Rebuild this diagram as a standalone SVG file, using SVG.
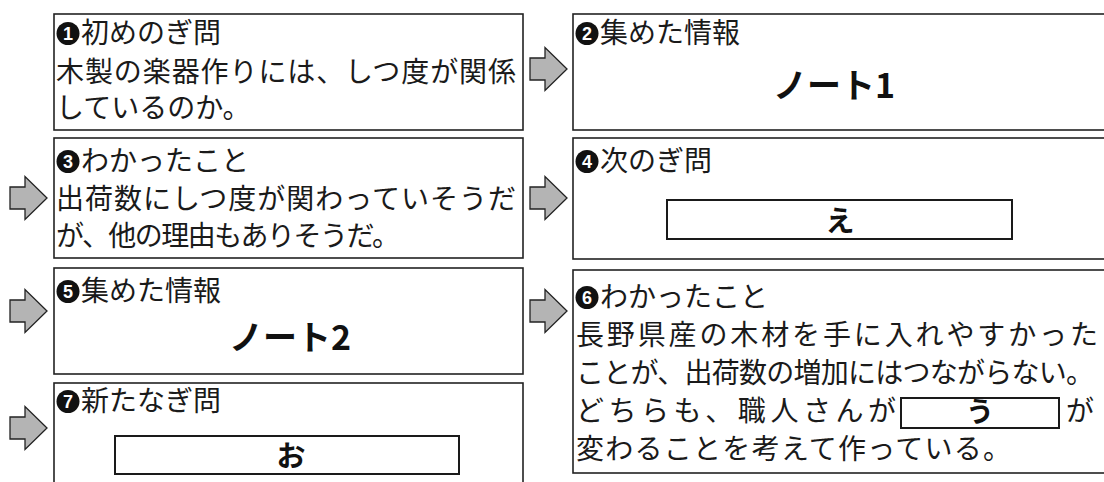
<svg xmlns="http://www.w3.org/2000/svg" width="1104" height="482" viewBox="0 0 1104 482">
<style>
.box{fill:#fff;stroke:#222;stroke-width:1.6}
.blank{fill:#fff;stroke:#1a1a1a;stroke-width:2}
.t{font-family:"Noto Sans CJK JP","Noto Sans CJK SC",sans-serif;font-size:28px;fill:#1a1a1a}
.b{font-family:"Noto Sans CJK JP","Noto Sans CJK SC",sans-serif;font-weight:bold;fill:#111}
.dot{fill:#111}
.d{font-family:"Liberation Sans",Arial,sans-serif;font-weight:bold;font-size:18px;fill:#fff;text-anchor:middle}
.arrow{fill:#b4b4b4;stroke:#222;stroke-width:1.3;stroke-linejoin:miter}
</style>
<defs>
<polygon id="arr" points="0,-11 15,-11 15,-21.5 37,0 15,21.5 15,11 0,11"/>
</defs>
<rect width="1104" height="482" fill="#fff"/>

<g id="node1">
<rect class="box" x="54" y="14" width="469" height="116"/>
<circle class="dot" cx="68" cy="33.5" r="11.5"/>
<text class="d" x="68" y="40">1</text>
<text class="t" x="81" y="43">初めのぎ問</text>
<text class="t" x="56" y="82" textLength="460" lengthAdjust="spacing">木製の楽器作りには、しつ度が関係</text>
<text class="t" x="56" y="118">しているのか。</text>
</g>

<g id="node2">
<rect class="box" x="573" y="14" width="545" height="116"/>
<circle class="dot" cx="587" cy="33.5" r="11.5"/>
<text class="d" x="587" y="40">2</text>
<text class="t" x="600" y="43">集めた情報</text>
<text class="b" x="834" y="98" font-size="34" text-anchor="middle">ノート1</text>
</g>

<g id="node3">
<rect class="box" x="54" y="138" width="469" height="120"/>
<circle class="dot" cx="68" cy="161.5" r="11.5"/>
<text class="d" x="68" y="168">3</text>
<text class="t" x="81" y="171">わかったこと</text>
<text class="t" x="56" y="209" textLength="460" lengthAdjust="spacing">出荷数にしつ度が関わっていそうだ</text>
<text class="t" x="56" y="246" textLength="344" lengthAdjust="spacing">が、他の理由もありそうだ。</text>
</g>

<g id="node4">
<rect class="box" x="573" y="138" width="545" height="121"/>
<circle class="dot" cx="587" cy="161.5" r="11.5"/>
<text class="d" x="587" y="168">4</text>
<text class="t" x="600" y="171">次のぎ問</text>
<rect class="blank" x="667" y="200" width="345" height="39"/>
<text class="b" x="840" y="232" font-size="29" text-anchor="middle">え</text>
</g>

<g id="node5">
<rect class="box" x="54" y="268" width="469" height="106"/>
<circle class="dot" cx="68" cy="291.5" r="11.5"/>
<text class="d" x="68" y="298">5</text>
<text class="t" x="81" y="301">集めた情報</text>
<text class="b" x="290" y="350" font-size="34" text-anchor="middle">ノート2</text>
</g>

<g id="node6">
<rect class="box" x="573" y="270" width="545" height="203"/>
<circle class="dot" cx="587" cy="297.5" r="11.5"/>
<text class="d" x="587" y="304">6</text>
<text class="t" x="600" y="307">わかったこと</text>
<text class="t" x="576" y="345" textLength="522" lengthAdjust="spacing">長野県産の木材を手に入れやすかった</text>
<text class="t" x="576" y="383" textLength="518" lengthAdjust="spacing">ことが、出荷数の増加にはつながらない。</text>
<text class="t" x="576" y="421" textLength="320" lengthAdjust="spacing">どちらも、職人さんが</text>
<rect class="blank" x="901" y="398" width="158" height="30"/>
<text class="b" x="980" y="422" font-size="28" text-anchor="middle">う</text>
<text class="t" x="1066" y="421">が</text>
<text class="t" x="576" y="459" textLength="435" lengthAdjust="spacing">変わることを考えて作っている。</text>
</g>

<g id="node7">
<rect class="box" x="54" y="383" width="469" height="120"/>
<circle class="dot" cx="68" cy="401.5" r="11.5"/>
<text class="d" x="68" y="408">7</text>
<text class="t" x="81" y="411">新たなぎ問</text>
<rect class="blank" x="115" y="436" width="344" height="38"/>
<text class="b" x="291" y="467" font-size="29" text-anchor="middle">お</text>
</g>

<g id="connectors">
<use href="#arr" class="arrow" x="530" y="69"/>
<use href="#arr" class="arrow" x="10" y="198"/>
<use href="#arr" class="arrow" x="530" y="198"/>
<use href="#arr" class="arrow" x="10" y="311"/>
<use href="#arr" class="arrow" x="530" y="311"/>
<use href="#arr" class="arrow" x="10" y="428"/>
</g>
</svg>
